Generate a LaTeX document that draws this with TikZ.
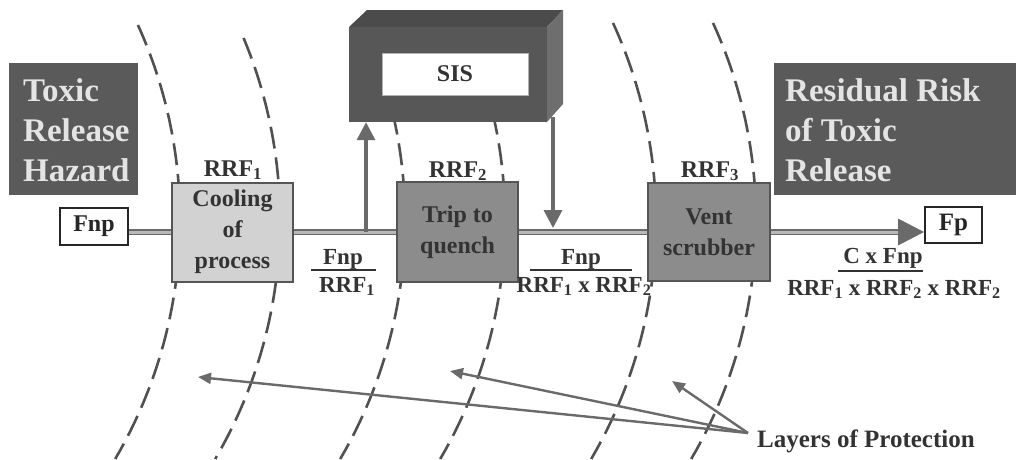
\documentclass[tikz,border=0pt]{standalone}
\usepackage{fontspec}
\setmainfont{Liberation Serif}
\usetikzlibrary{arrows.meta}

\definecolor{panel}{HTML}{5A5A5A}
\definecolor{paneltext}{HTML}{E4E4E4}
\definecolor{lightbox}{HTML}{D2D2D2}
\definecolor{midbox}{HTML}{8C8C8C}
\definecolor{edge}{HTML}{555555}
\definecolor{ink}{HTML}{333333}
\definecolor{wire}{HTML}{6A6A6A}
\definecolor{wirecore}{HTML}{B8B8B8}
\definecolor{layer}{HTML}{505050}
\definecolor{sisfront}{HTML}{575757}
\definecolor{sistop}{HTML}{4B4B4B}
\definecolor{sisside}{HTML}{6E6E6E}

\begin{document}
\begin{tikzpicture}[x=1pt,y=-1pt,
  panelbox/.style={fill=panel, draw=none, inner sep=0, anchor=north west, minimum height=132pt},
  paneltxt/.style={text=paneltext, font=\fontsize{33}{40}\selectfont\bfseries, align=left, anchor=west, inner sep=0},
  stagebox/.style={draw=edge, line width=2pt, minimum width=121pt, minimum height=99pt, inner sep=0,
                   text=ink, align=center, font=\fontsize{24}{31}\selectfont\bfseries},
  flagbox/.style={draw=black!85, line width=2pt, fill=white, inner sep=0,
                  font=\fontsize{24}{28}\selectfont\bfseries, text=black!85},
  rrf/.style={font=\fontsize{24}{28}\selectfont\bfseries, text=ink, inner sep=0, anchor=base},
  fractxt/.style={font=\fontsize{23}{27}\selectfont\bfseries, text=ink, inner sep=0, anchor=base},
  fracrule/.style={draw=ink, line width=1.5pt},
  flow/.style={draw=wire, line width=1.9pt, double=wirecore, double distance=3pt},
  feed/.style={draw=wire, line width=3.4pt, -{Triangle[length=18pt,width=18pt]}},
  pointer/.style={draw=wire, line width=2.4pt, -{Triangle[length=13pt,width=11pt]}},
  layerline/.style={draw=layer, line width=2.6pt, dash pattern=on 22pt off 9pt},
]
\useasboundingbox (0,0) rectangle (1016,459);

% dashed arcs: the protection layers, one pair round each stage
\begin{scope}
  \clip (0,0) rectangle (1016,459);
  \foreach \p/\s in {180/25, 280/38, 405/25, 505/25, 656/23, 756/23}{
    \draw[layerline] plot[domain=\s:459, samples=50, smooth, variable=\t]
      ({\p - 473 + 100*sqrt(22.3729 - ((\t-220)/100)^2)}, {\t});
  }
\end{scope}

% side panels
\node[panelbox, minimum width=129pt] (hazard) at (9,63) {};
\node[paneltxt] (hazardtxt) at (23,130) {Toxic\\Release\\Hazard};
\node[panelbox, minimum width=244pt] (residual) at (774,63) {};
\node[paneltxt] (residualtxt) at (785,130) {Residual Risk\\of Toxic\\Release};

% safety instrumented system block (drawn in 3D)
\fill[sistop] (349,27) -- (367,10) -- (563,10) -- (547,27) -- cycle;
\fill[sisside] (547,27) -- (563,10) -- (563,104) -- (547,122) -- cycle;
\node[fill=sisfront, minimum width=198pt, minimum height=95pt, inner sep=0] (sis) at (448,74.5) {};
\node[fill=white, draw=black!30, line width=0.8pt, minimum width=146pt, minimum height=42pt,
      inner sep=0, font=\fontsize{24}{28}\selectfont\bfseries, text=ink] (sislabel) at (455,74) {SIS};

% stages
\node[stagebox, fill=lightbox] (cool) at (232.5,232) {Cooling\\of\\process};
\node[stagebox, fill=midbox, minimum height=100pt] (trip) at (457.5,232) {Trip to\\quench};
\node[stagebox, fill=midbox, minimum width=122pt, minimum height=98pt] (vent) at (709,232) {Vent\\scrubber};

% frequency boxes
\node[flagbox, minimum width=68pt, minimum height=37pt] (fnp) at (94,226.5) {Fnp};
\node[flagbox, minimum width=57pt, minimum height=36pt, font=\fontsize{25}{29}\selectfont\bfseries] (fp) at (953.5,225) {Fp};

% risk reduction factors
\node[rrf] (rrf1) at (233,176) {RRF\textsubscript{1}};
\node[rrf] (rrf2) at (458,177) {RRF\textsubscript{2}};
\node[rrf] (rrf3) at (710,177) {RRF\textsubscript{3}};

% main flow
\coordinate (tipbase) at (898,232);
\draw[flow] (fnp.east |- cool.west) -- (cool.west);
\draw[flow] (cool.east) -- (trip.west);
\draw[flow] (trip.east) -- (vent.west);
\draw[flow] (vent.east) -- ([xshift=2pt]tipbase);
\fill[wire] ([yshift=-13.5pt]tipbase) -- (fp.west |- vent.east) -- ([yshift=13.5pt]tipbase) -- cycle;

% signals to and from the SIS
\coordinate (upfoot) at (366,232);
\coordinate (downtop) at (553,117);
\coordinate (downfoot) at (553,228);
\draw[feed] (upfoot) -- (upfoot |- sis.south);
\draw[feed] (downtop) -- (downfoot);

% frequencies after each layer
\node[fractxt] (f1n) at (343,264) {Fnp};
\draw[fracrule] (311,270) -- (376,270);
\node[fractxt] (f1d) at (347,292) {RRF\textsubscript{1}};

\node[fractxt] (f2n) at (581,264) {Fnp};
\draw[fracrule] (530,270) -- (632,270);
\node[fractxt] (f2d) at (584,292) {RRF\textsubscript{1} x RRF\textsubscript{2}};

\node[fractxt] (f3n) at (883,263) {C x Fnp};
\draw[fracrule] (838,271) -- (923,271);
\node[fractxt] (f3d) at (894,295) {RRF\textsubscript{1} x RRF\textsubscript{2} x RRF\textsubscript{2}};

% layer annotation
\node[font=\fontsize{25}{30}\selectfont\bfseries, text=ink, anchor=base west, inner sep=0] (lop) at (757,447) {Layers of Protection};
\coordinate (lopfoot) at (748,433);
\coordinate (l1) at (198,377);
\coordinate (l2) at (450,371);
\coordinate (l3) at (672,381);
\draw[pointer] (lopfoot) -- (l1);
\draw[pointer] (lopfoot) -- (l2);
\draw[pointer] (lopfoot) -- (l3);
\end{tikzpicture}
\end{document}
